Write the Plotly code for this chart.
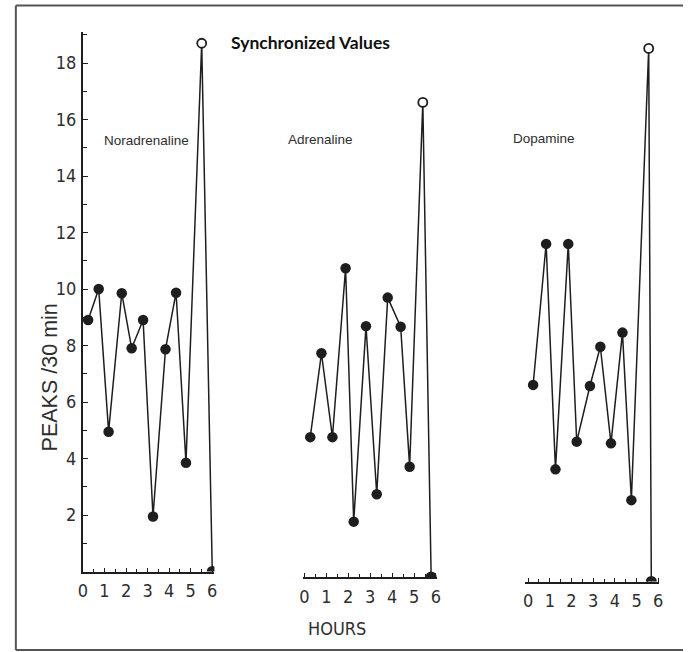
import plotly.graph_objects as go

W, H = 688, 652

# ---- data (hours, peaks / 30 min) ----
nor_hours = [0.24, 0.73, 1.19, 1.80, 2.26, 2.79, 3.25, 3.83, 4.32, 4.78, 5.51, 6.00]
nor_vals = [8.9, 10.0, 4.95, 9.85, 7.9, 8.9, 1.95, 7.87, 9.87, 3.85, 18.7, 0.0]

adr_hours = [0.27, 0.78, 1.28, 1.88, 2.25, 2.81, 3.30, 3.80, 4.39, 4.80, 5.40, 5.78]
adr_vals = [4.95, 7.92, 4.95, 10.93, 1.96, 8.88, 2.93, 9.89, 8.86, 3.9, 16.8, 0.0]

dop_hours = [0.23, 0.83, 1.26, 1.85, 2.24, 2.85, 3.33, 3.82, 4.35, 4.76, 5.56, 5.68]
dop_vals = [6.96, 11.95, 3.97, 11.95, 4.95, 6.92, 8.31, 4.89, 8.81, 2.88, 18.87, 0.0]

panel_names = ["Noradrenaline", "Adrenaline", "Dopamine"]
y_tick_vals = [2, 4, 6, 8, 10, 12, 14, 16, 18]
x_tick_vals = [0, 1, 2, 3, 4, 5, 6]

series = [(nor_hours, nor_vals), (adr_hours, adr_vals), (dop_hours, dop_vals)]

INK = "#1e1e1e"
TXT = "#2e2e2e"
NARROW = "DejaVu Sans Condensed, Liberation Sans Narrow, sans-serif"
SANS = "Liberation Sans, Arial, sans-serif"

def xp(px):
    return px / W

def yp(py):
    return 1 - py / H

PXU = 28.25  # pixels per y unit
# (x pixel start, x pixel end, x range, y baseline pixel, y top value)
panels = [
    (79.0, 212.2, [0, 6.1], 571.5, 19.1),
    (302.2, 437.8, [-0.05, 6.05], 577.0, 19.6),
    (527.0, 663.0, [-0.14, 6.05], 581.5, 19.6),
]

fig = go.Figure()

for i, ((hrs, vals), (x0, x1, xr, yb, ytop)) in enumerate(zip(series, panels)):
    n = "" if i == 0 else str(i + 1)
    xa, ya = "x" + n, "y" + n
    ytop_px = yb - ytop * PXU
    fig.add_trace(go.Scatter(
        x=hrs, y=vals, xaxis=xa, yaxis=ya, mode="lines",
        line=dict(color=INK, width=1.5), cliponaxis=False, showlegend=False,
        hoverinfo="skip"))
    fig.add_trace(go.Scatter(
        x=hrs[:-2], y=vals[:-2], xaxis=xa, yaxis=ya, mode="markers",
        marker=dict(color=INK, size=10.5, line=dict(width=0)),
        cliponaxis=False, showlegend=False))
    fig.add_trace(go.Scatter(
        x=[hrs[-2]], y=[vals[-2]], xaxis=xa, yaxis=ya, mode="markers",
        marker=dict(color="white", size=9, line=dict(color=INK, width=1.8)),
        cliponaxis=False, showlegend=False))
    fig.add_trace(go.Scatter(
        x=[hrs[-1]], y=[vals[-1]], xaxis=xa, yaxis=ya, mode="markers",
        marker=dict(color=INK, size=11, line=dict(width=0)),
        cliponaxis=True, showlegend=False))

    xkey = "xaxis" + n
    ykey = "yaxis" + n
    fig.update_layout(**{
        xkey: dict(
            domain=[xp(x0), xp(x1)], range=xr, anchor=ya,
            showline=True, linecolor=INK, linewidth=2,
            showgrid=False, zeroline=False,
            tickvals=x_tick_vals, ticks="inside", ticklen=4, tickwidth=1.3,
            tickcolor=INK,
            minor=dict(dtick=0.5, tick0=0, ticks="inside", ticklen=3,
                       tickwidth=1.2, tickcolor=INK),
            tickfont=dict(family=NARROW, size=18, color=TXT),
            ticklabelstandoff=2,
        ),
        ykey: dict(
            domain=[yp(yb), yp(ytop_px)], range=[0, ytop], anchor=xa,
            showgrid=False, zeroline=False,
            showline=(i == 0), linecolor=INK, linewidth=2,
            tickvals=y_tick_vals if i == 0 else [],
            ticks="inside" if i == 0 else "", ticklen=5, tickwidth=1.3,
            tickcolor=INK,
            minor=dict(dtick=1, tick0=0, ticks="inside" if i == 0 else "",
                       ticklen=4, tickwidth=1.2, tickcolor=INK),
            showticklabels=(i == 0),
            tickfont=dict(family=NARROW, size=18, color=TXT),
            ticklabelstandoff=1,
        ),
    })

label_pos = [(98, 140), (285, 139), (513, 138)]
for name, (lx, ly) in zip(panel_names, label_pos):
    fig.add_annotation(text=name, x=xp(lx), y=yp(ly), xref="paper", yref="paper",
                       xanchor="left", yanchor="middle", showarrow=False,
                       font=dict(family=SANS, size=13.5, color=TXT))

fig.add_annotation(text="<b>Synchronized Values</b>", x=xp(310), y=yp(43),
                   xref="paper", yref="paper", xanchor="center", yanchor="middle",
                   showarrow=False, font=dict(family="Lato, sans-serif", size=17.5, color="#111"))

fig.add_annotation(text="PEAKS /30 min", x=xp(46), y=yp(377), xref="paper",
                   yref="paper", xanchor="center", yanchor="middle", textangle=-90,
                   showarrow=False, font=dict(family=SANS, size=21.5, color=TXT))

fig.add_annotation(text="HOURS", x=xp(336), y=yp(628), xref="paper", yref="paper",
                   xanchor="center", yanchor="middle", showarrow=False,
                   font=dict(family=NARROW, size=18, color=TXT))

for (a, b, c, d) in [(11, 5.5, 687, 5.5), (11, 5.5, 11, 650), (11, 650, 687, 650)]:
    fig.add_shape(type="line", xref="paper", yref="paper",
                  x0=xp(a), y0=yp(b), x1=xp(c), y1=yp(d),
                  line=dict(color="#555", width=2))

fig.update_layout(width=W, height=H, margin=dict(l=0, r=0, t=0, b=0),
                  paper_bgcolor="white", plot_bgcolor="rgba(0,0,0,0)",
                  showlegend=False)

fig.write_html("out.html", config={"displayModeBar": False},
               post_script="document.body.style.margin='0';document.body.style.overflow='hidden';"
                           "document.documentElement.style.overflow='hidden';")
